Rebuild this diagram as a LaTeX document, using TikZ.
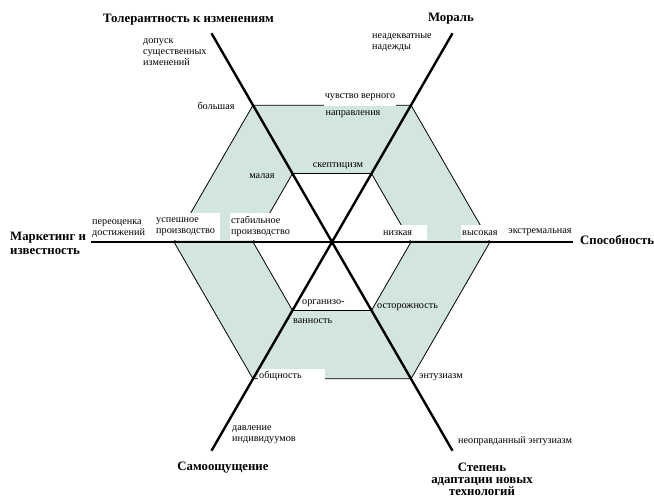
\documentclass[tikz,border=0pt]{standalone}
\usepackage{fontspec}
\setmainfont{Liberation Serif}
\usetikzlibrary{calc}
\definecolor{ringGreen}{HTML}{D3E6DD}
\tikzset{
    AxisTitle/.style={font=\fontsize{12.8}{14}\selectfont\bfseries, align=center, inner sep=1pt},
    NoteText/.style={font=\fontsize{10.2}{11}\selectfont, align=left, inner sep=1pt},
    WhiteNote/.style={NoteText, fill=white, anchor=north west},
    AxisLine/.style={line width=2.4pt},
    HexEdge/.style={line width=0.8pt}
}
\begin{document}
\begin{tikzpicture}[x=1pt, y=-1pt]
    \useasboundingbox (0,0) rectangle (654,499);
    \coordinate (C) at (332,242);

    % кольцо между двумя шестиугольниками
    \begin{scope}[shift={(C)}]
        \fill[ringGreen, even odd rule] (0:158) \foreach \a in {60,120,...,300} { -- (\a:158) } -- cycle
            (0:79) \foreach \a in {60,120,...,300} { -- (\a:79) } -- cycle;
        \foreach \r in {158,79} {
            \draw[HexEdge] (0:\r) \foreach \a in {60,120,...,300} { -- (\a:\r) } -- cycle;
        }
    \end{scope}

    % концы осей
    \foreach \a/\n in {0/capEnd, 60/adaEnd, 120/selfEnd, 180/mktEnd, 240/tolEnd, 300/morEnd} {
        \coordinate (\n) at ($(C)+(\a:241)$);
    }

    % подписи внутри
    \node[NoteText, anchor=west] (dopNote) at (142,52.5) {допуск\\существенных\\изменений};
    \node[NoteText, anchor=west] (nadNote) at (371,42.5) {неадекватные\\надежды};
    \node[NoteText] (bigNote) at (216,106) {большая};
    \node[NoteText, fill=white, minimum height=18pt] (truNote) at (360,97) {чувство верного};
    \node[NoteText] (napNote) at (353,114) {направления};
    \node[NoteText] (skepNote) at (338,166) {скептицизм};
    \node[NoteText] (smallNote) at (262,176) {малая};
    \node[NoteText, anchor=west] (pereNote) at (91,228.5) {переоценка\\достижений};
    \node[WhiteNote, text width=63pt, minimum height=27pt] (uspNote) at (155,213) {успешное\\производство};
    \node[WhiteNote, text width=64pt, minimum height=27pt] (stabNote) at (230,213) {стабильное\\производство};
    \node[WhiteNote, text width=43pt, minimum height=15pt] (lowNote) at (382,225) {низкая};
    \node[WhiteNote, text width=36pt, minimum height=15pt] (highNote) at (461,225) {высокая};
    \node[NoteText] (extNote) at (540,232) {экстремальная};
    \node[NoteText, anchor=west] (orgNote) at (301,303) {организо-};
    \node[NoteText, anchor=west] (vanNote) at (292,321) {ванность};
    \node[NoteText, anchor=west] (cauNote) at (376,307) {осторожность};
    \node[WhiteNote, text width=65pt, minimum height=14pt] (comNote) at (258,369) {общность};
    \node[NoteText, anchor=west] (entNote) at (418,377) {энтузиазм};
    \node[NoteText, anchor=west] (presNote) at (231,434.5) {давление\\индивидуумов};
    \node[NoteText, anchor=west] (unjNote) at (457,441) {неоправданный энтузиазм};

    % оси
    \draw[AxisLine] (tolEnd) -- (adaEnd);
    \draw[AxisLine] (morEnd) -- (selfEnd);
    \draw[AxisLine] (mktEnd) -- (capEnd);

    % названия осей
    \node[AxisTitle, anchor=west] (tolTitle) at (102,20) {Толерантность к изменениям};
    \node[AxisTitle] (morTitle) at (451,19) {Мораль};
    \node[AxisTitle, anchor=west, align=left] (mktTitle) at (9,243) {Маркетинг и\\известность};
    \node[AxisTitle, anchor=west] (capTitle) at (579,240) {Способность};
    \node[AxisTitle] (selfTitle) at (223,468) {Самоощущение};
    \node[AxisTitle, font=\fontsize{12.8}{12}\selectfont\bfseries] (adaTitle) at (482,479) {Степень\\адаптации новых\\технологий};
\end{tikzpicture}
\end{document}
